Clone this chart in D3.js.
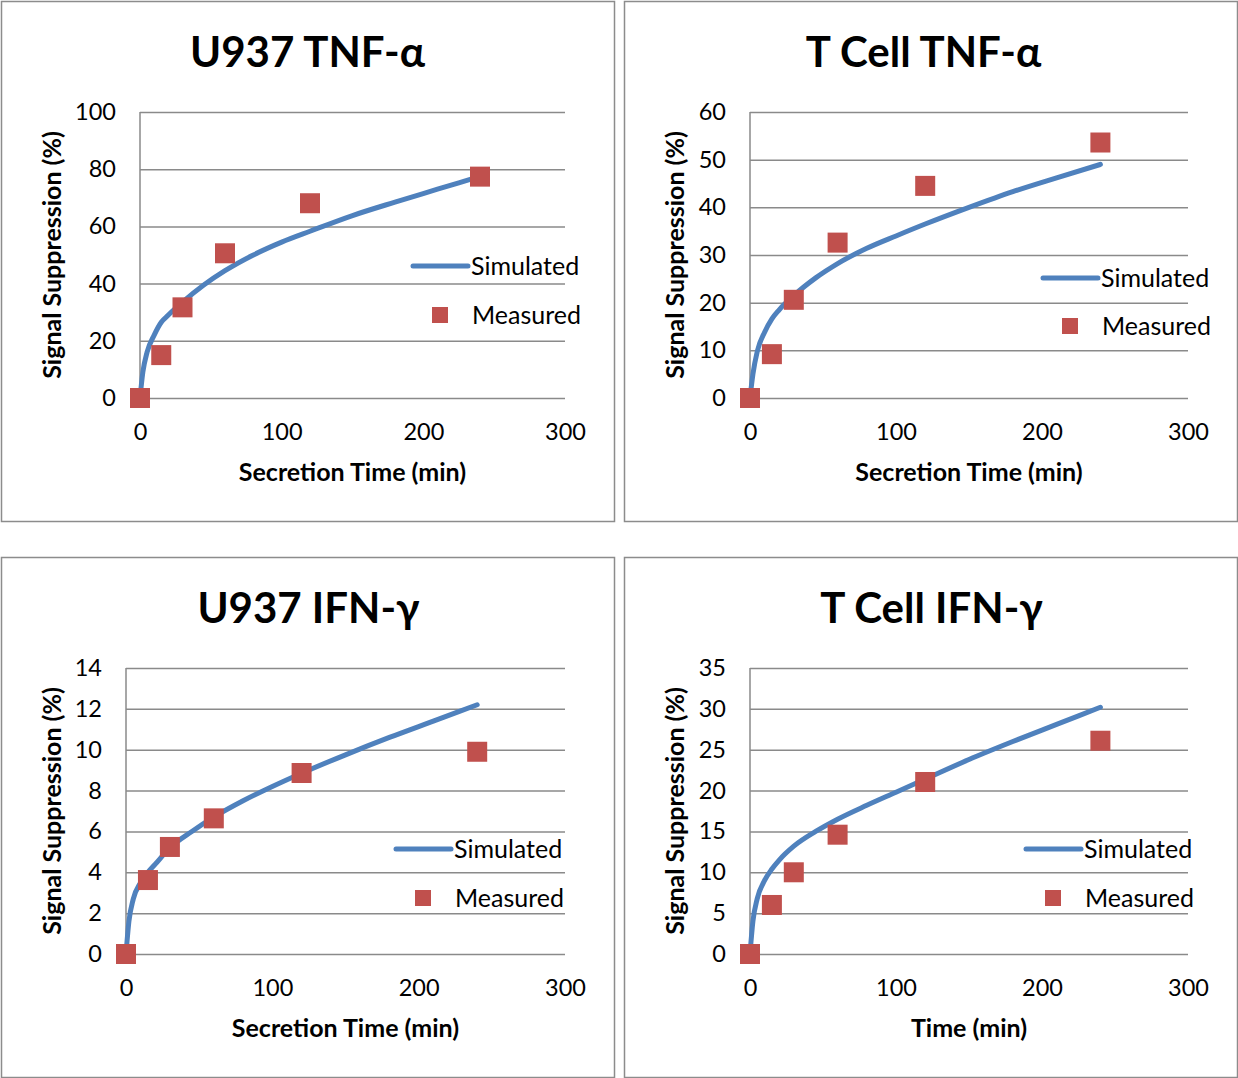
<!DOCTYPE html>
<html>
<head>
<meta charset="utf-8">
<script src="https://cdn.jsdelivr.net/npm/d3@7"></script>
<style>
  html, body { margin: 0; padding: 0; background: #fff; }
  svg { display: block; }
  text { font-family: Lato, "Open Sans", sans-serif; fill: #000; }
</style>
</head>
<body>
<svg id="chart" width="1238" height="1078"></svg>
<script>
// ---- Data ----
const measuredTimes = [0, 15, 30, 60, 120, 240];
const simulatedTimes = [0, 2, 5, 10, 15, 20, 30, 45, 60, 80, 100, 120, 150, 180, 210, 240];

const u937TnfMeasured = [0, 15, 31.7, 50.6, 68.1, 77.4];
const u937TnfSimulated = [0, 9, 16, 22, 26.5, 29, 33.5, 39.5, 44.5, 50, 54.5, 58.3, 63.8, 68.5, 73, 77.5];

const tcellTnfMeasured = [0, 9.2, 20.6, 32.6, 44.5, 53.6];
const tcellTnfSimulated = [0, 5, 9.8, 13.8, 16.6, 18.5, 21.5, 25.2, 28.2, 31.4, 34.0, 36.5, 40.0, 43.3, 46.2, 49.0];

const u937IfnMeasured = [0, 3.62, 5.24, 6.64, 8.86, 9.9];
const u937IfnSimulated = [0, 1.6, 2.7, 3.5, 4.0, 4.4, 5.2, 6.0, 6.7, 7.5, 8.2, 8.85, 9.75, 10.6, 11.4, 12.2];

const tcellIfnMeasured = [0, 6.0, 10.0, 14.6, 21.05, 26.1];
const tcellIfnSimulated = [0, 4.0, 6.8, 9.0, 10.4, 11.5, 13.2, 15.0, 16.5, 18.2, 19.8, 21.4, 23.8, 26.0, 28.1, 30.2];

const chartTitles = ["U937 TNF-\u03b1", "T Cell TNF-\u03b1", "U937 IFN-\u03b3", "T Cell IFN-\u03b3"];
const xAxisTitles = ["Secretion Time (min)", "Secretion Time (min)", "Secretion Time (min)", "Time (min)"];
const yAxisTitle = "Signal Suppression (%)";
const xTicks = [0, 100, 200, 300];
const yTicksU937Tnf = [0, 20, 40, 60, 80, 100];
const yTicksTcellTnf = [0, 10, 20, 30, 40, 50, 60];
const yTicksU937Ifn = [0, 2, 4, 6, 8, 10, 12, 14];
const yTicksTcellIfn = [0, 5, 10, 15, 20, 25, 30, 35];
const legendLabels = ["Simulated", "Measured"];

// ---- Layout (presentation only) ----
const panels = [
  { box: [1, 1, 613, 520], plot: [140, 112, 565, 398], sim: u937TnfSimulated, meas: u937TnfMeasured, yTicks: yTicksU937Tnf, legend: [413, 266, 315], tdx: 0 },
  { box: [624, 1, 613, 520], plot: [750, 112, 1188, 398], sim: tcellTnfSimulated, meas: tcellTnfMeasured, yTicks: yTicksTcellTnf, legend: [1043, 278, 326], tdx: -7 },
  { box: [1, 557, 613, 520], plot: [126, 668, 565, 954], sim: u937IfnSimulated, meas: u937IfnMeasured, yTicks: yTicksU937Ifn, legend: [396, 849, 898], tdx: 1 },
  { box: [624, 557, 613, 520], plot: [750, 668, 1188, 954], sim: tcellIfnSimulated, meas: tcellIfnMeasured, yTicks: yTicksTcellIfn, legend: [1026, 849, 898], tdx: 1 }
];

const lineColor = "#4F81BD";
const markerColor = "#C0504D";
const gridColor = "#8A8A8A";

const svg = d3.select("#chart");

panels.forEach((p, i) => {
  const g = svg.append("g");
  const [bx, by, bw, bh] = p.box;
  g.append("rect").attr("x", bx + 0.5).attr("y", by + 0.5).attr("width", bw).attr("height", bh)
    .attr("fill", "#fff").attr("stroke", "#8C8C8C").attr("stroke-width", 1.5);

  const [x0, y0, x1, y1] = p.plot;
  const yMax = p.yTicks[p.yTicks.length - 1];
  const x = d3.scaleLinear().domain([0, 300]).range([x0, x1]);
  const y = d3.scaleLinear().domain([0, yMax]).range([y1, y0]);

  // title
  g.append("text").attr("x", bx + bw / 2 + p.tdx).attr("y", by + 66)
    .attr("text-anchor", "middle").attr("font-size", 42).attr("font-weight", "bold")
    .text(chartTitles[i]);

  // gridlines
  const yAxis = d3.axisLeft(y).tickValues(p.yTicks).tickSize(-(x1 - x0)).tickPadding(24).tickFormat(d3.format("d"));
  const ya = g.append("g").attr("transform", `translate(${x0},0)`).call(yAxis);
  ya.select(".domain").remove();
  ya.selectAll(".tick line").attr("stroke", gridColor).attr("stroke-width", 1.5);
  ya.selectAll(".tick text").attr("font-size", 23.5).attr("font-family", "Lato").attr("fill", "#000");

  // y axis vertical line
  g.append("line").attr("x1", x0).attr("x2", x0).attr("y1", y0).attr("y2", y1)
    .attr("stroke", gridColor).attr("stroke-width", 1.5);

  // x axis labels
  const xAxis = d3.axisBottom(x).tickValues(xTicks).tickSize(0).tickPadding(25).tickFormat(d3.format("d"));
  const xa = g.append("g").attr("transform", `translate(0,${y1})`).call(xAxis);
  xa.select(".domain").remove();
  xa.selectAll(".tick text").attr("font-size", 23.5).attr("font-family", "Lato").attr("fill", "#000");

  // axis titles
  g.append("text").attr("x", (x0 + x1) / 2).attr("y", y1 + 83)
    .attr("text-anchor", "middle").attr("font-size", 25).attr("font-weight", "bold")
    .text(xAxisTitles[i]);
  g.append("text").attr("transform", `translate(${bx + 60},${(y0 + y1) / 2}) rotate(-90)`)
    .attr("text-anchor", "middle").attr("font-size", 25).attr("font-weight", "bold")
    .text(yAxisTitle);

  // simulated line
  const line = d3.line().x(d => x(d[0])).y(d => y(d[1])).curve(d3.curveMonotoneX);
  g.append("path").datum(simulatedTimes.map((t, k) => [t, p.sim[k]]))
    .attr("d", line).attr("fill", "none").attr("stroke", lineColor)
    .attr("stroke-width", 5).attr("stroke-linecap", "round").attr("stroke-linejoin", "round");

  // measured markers
  const ms = 20;
  g.selectAll("rect.m").data(measuredTimes.map((t, k) => [t, p.meas[k]])).enter()
    .append("rect").attr("class", "m")
    .attr("x", d => x(d[0]) - ms / 2).attr("y", d => y(d[1]) - ms / 2)
    .attr("width", ms).attr("height", ms).attr("fill", markerColor);

  // legend
  const [lx, ly1, ly2] = p.legend;
  g.append("line").attr("x1", lx).attr("x2", lx + 55).attr("y1", ly1).attr("y2", ly1)
    .attr("stroke", lineColor).attr("stroke-width", 5).attr("stroke-linecap", "round");
  g.append("text").attr("x", lx + 58).attr("y", ly1).attr("dy", "0.35em")
    .attr("font-size", 25).text(legendLabels[0]);
  g.append("rect").attr("x", lx + 27 - 8).attr("y", ly2 - 8).attr("width", 16).attr("height", 16)
    .attr("fill", markerColor);
  g.append("text").attr("x", lx + 59).attr("y", ly2).attr("dy", "0.35em")
    .attr("font-size", 25).text(legendLabels[1]);
});
</script>
</body>
</html>
